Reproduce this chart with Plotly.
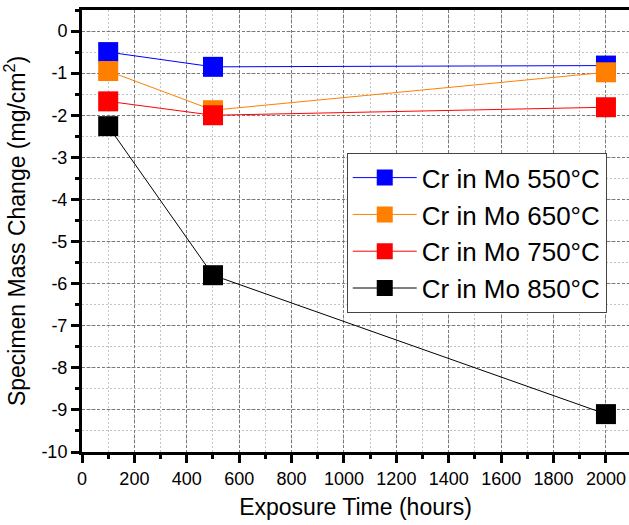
import plotly.graph_objects as go

# ---- data ----
time_hours = [100, 500, 2000]
cr_550 = [-0.50, -0.85, -0.82]
cr_650 = [-0.95, -1.88, -0.98]
cr_750 = [-1.67, -2.00, -1.81]
cr_850 = [-2.26, -5.80, -9.10]
series_names = ["Cr in Mo 550°C", "Cr in Mo 650°C", "Cr in Mo 750°C", "Cr in Mo 850°C"]
series_colors = ["#0000ff", "#ff8000", "#ff0000", "#000000"]

x_tick_vals = [0, 200, 400, 600, 800, 1000, 1200, 1400, 1600, 1800, 2000]
x_tick_text = ["0", "200", "400", "600", "800", "1000", "1200", "1400", "1600", "1800", "2000"]
y_tick_vals = [0, -1, -2, -3, -4, -5, -6, -7, -8, -9, -10]
y_tick_text = ["0", "-1", "-2", "-3", "-4", "-5", "-6", "-7", "-8", "-9", "-10"]

FONT = "Liberation Sans, Arial, sans-serif"

fig = go.Figure()
for name, vals, col in zip(series_names, [cr_550, cr_650, cr_750, cr_850], series_colors):
    fig.add_trace(go.Scatter(
        x=time_hours, y=vals, name=name, mode="lines+markers",
        line=dict(color=col, width=1),
        marker=dict(symbol="square", size=20, color=col, line=dict(width=0)),
    ))

axis_common = dict(
    showline=True, linecolor="black", linewidth=3,
    ticks="outside", ticklen=8, tickwidth=3, tickcolor="black",
    showgrid=True, gridcolor="#7a7a7a", gridwidth=1, griddash="3px,2px",
    zeroline=False,
    tickfont=dict(family=FONT, size=18, color="black"),
)

fig.update_layout(
    width=629, height=525,
    margin=dict(l=82, r=0, t=10, b=73),
    paper_bgcolor="white", plot_bgcolor="white",
    font=dict(family=FONT, color="black"),
    showlegend=True,
    legend=dict(
        x=0.484, y=0.676, xanchor="left", yanchor="top",
        bgcolor="white", bordercolor="#444444", borderwidth=1,
        font=dict(family=FONT, size=26, color="black"),
        tracegroupgap=0, itemwidth=64,
    ),
    xaxis=dict(
        **axis_common,
        range=[0, 2088], mirror=True,
        tickmode="array", tickvals=x_tick_vals, ticktext=x_tick_text,
        minor=dict(dtick=100, tick0=0, ticks="outside", ticklen=4, tickwidth=3, tickcolor="black",
                   showgrid=True, gridcolor="#c4c4c4", griddash="2px,2px", gridwidth=1),
        title=dict(text="Exposure Time (hours)", font=dict(family=FONT, size=23, color="black"), standoff=12),
    ),
    yaxis=dict(
        **axis_common,
        range=[-10, 0.5],
        tickmode="array", tickvals=y_tick_vals, ticktext=y_tick_text,
        minor=dict(dtick=0.5, tick0=0, ticks="outside", ticklen=4, tickwidth=3, tickcolor="black",
                   showgrid=True, gridcolor="#c4c4c4", griddash="2px,2px", gridwidth=1),
        title=dict(text="Specimen Mass Change (mg/cm<sup>2</sup>)", font=dict(family=FONT, size=23, color="black"), standoff=11),
    ),
)

fig.write_html("out.html")
